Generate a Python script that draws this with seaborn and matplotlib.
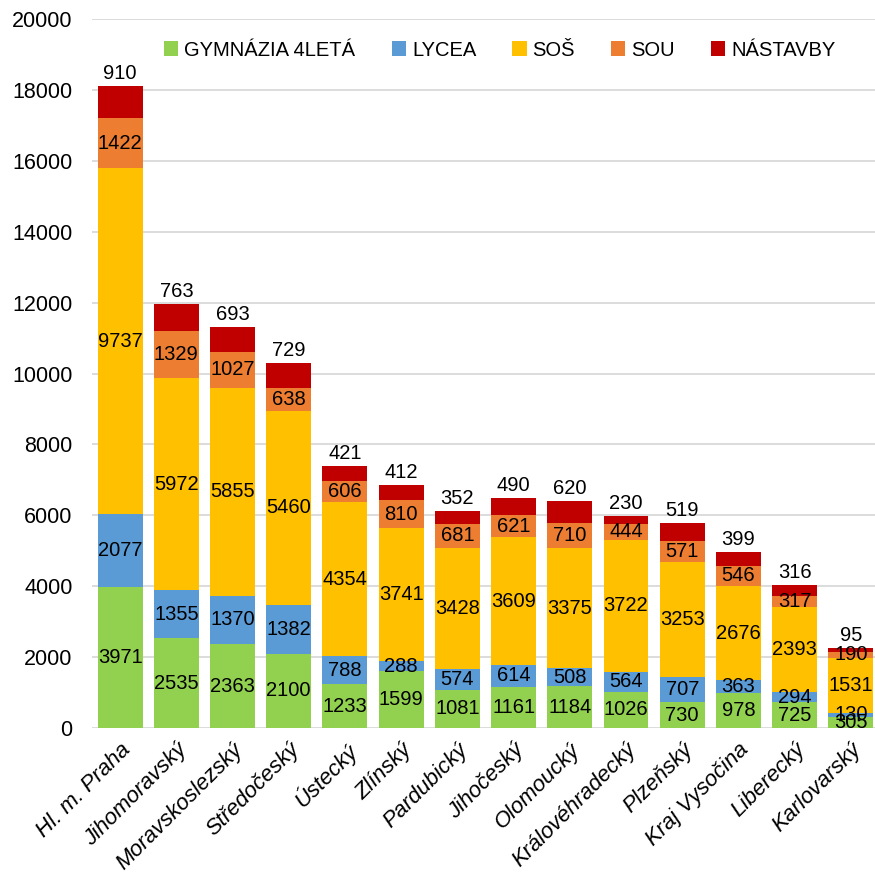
import numpy as np
import pandas as pd
import seaborn as sns
import matplotlib.pyplot as plt
from matplotlib.patches import Patch

regions = ["Hl. m. Praha", "Jihomoravský", "Moravskoslezský", "Středočeský", "Ústecký",
           "Zlínský", "Pardubický", "Jihočeský", "Olomoucký", "Královéhradecký",
           "Plzeňský", "Kraj Vysočina", "Liberecký", "Karlovarský"]
gymnazia = [3971, 2535, 2363, 2100, 1233, 1599, 1081, 1161, 1184, 1026, 730, 978, 725, 305]
lycea = [2077, 1355, 1370, 1382, 788, 288, 574, 614, 508, 564, 707, 363, 294, 130]
sos = [9737, 5972, 5855, 5460, 4354, 3741, 3428, 3609, 3375, 3722, 3253, 2676, 2393, 1531]
sou = [1422, 1329, 1027, 638, 606, 810, 681, 621, 710, 444, 571, 546, 317, 190]
nastavby = [910, 763, 693, 729, 421, 412, 352, 490, 620, 230, 519, 399, 316, 95]

series = ["GYMNÁZIA 4LETÁ", "LYCEA", "SOŠ", "SOU", "NÁSTAVBY"]
colors = ["#92D050", "#5B9BD5", "#FFC000", "#ED7D31", "#C00000"]

sns.set_style("white", {"text.color": "black", "xtick.color": "black",
                        "ytick.color": "black"})
plt.rcParams['font.family'] = ['Liberation Sans', 'DejaVu Sans']

df = pd.DataFrame({"kraj": regions, "GYMNÁZIA 4LETÁ": gymnazia, "LYCEA": lycea,
                   "SOŠ": sos, "SOU": sou, "NÁSTAVBY": nastavby})
cum = df[series].cumsum(axis=1)

fig = plt.figure(figsize=(8.75, 8.75), dpi=100)
ax = fig.add_axes([92 / 875, (875 - 728) / 875, 783 / 875, (728 - 19) / 875])
ax.set_axisbelow(True)
ax.yaxis.grid(True, color="#D9D9D9", linewidth=1.3)

# stacked bars: draw cumulative totals from the top series down
for name, col in zip(series[::-1], colors[::-1]):
    sns.barplot(x=df["kraj"], y=cum[name], color=col, width=0.8,
                saturation=1, ax=ax, edgecolor="none")

for i in range(len(regions)):
    for j, name in enumerate(series):
        top = cum[name].iloc[i]
        val = df[name].iloc[i]
        if name == "NÁSTAVBY":
            ax.text(i, top + 80, str(val), ha="center", va="bottom",
                    fontsize=14.5, color="black")
        else:
            ax.text(i, top - val / 2, str(val), ha="center", va="center",
                    fontsize=14.5, color="black")

ax.set_ylim(0, 20000)
ax.set_xlim(-0.5, 13.43)
ax.set_yticks(range(0, 20001, 2000))
ax.tick_params(axis="y", labelsize=15.5, length=0, pad=14, labelcolor="black")
ax.tick_params(axis="x", length=0, pad=8, labelcolor="black")
ax.set_xticks(range(len(regions)))
ax.set_xticklabels(regions, rotation=45, ha="right", rotation_mode="anchor",
                   fontsize=16, fontstyle="italic")
ax.set_xlabel("")
ax.set_ylabel("")
sns.despine(ax=ax, left=True, bottom=True)

handles = [Patch(facecolor=c, edgecolor="none") for c in colors]
fig.legend(handles, series, loc="center", bbox_to_anchor=(500 / 875, 1 - 50 / 875),
           ncol=5, frameon=False, fontsize=14.5, handlelength=0.7, handleheight=0.7,
           handletextpad=0.3, columnspacing=1.8, labelcolor="black")

fig.savefig("out.png", dpi=100)
